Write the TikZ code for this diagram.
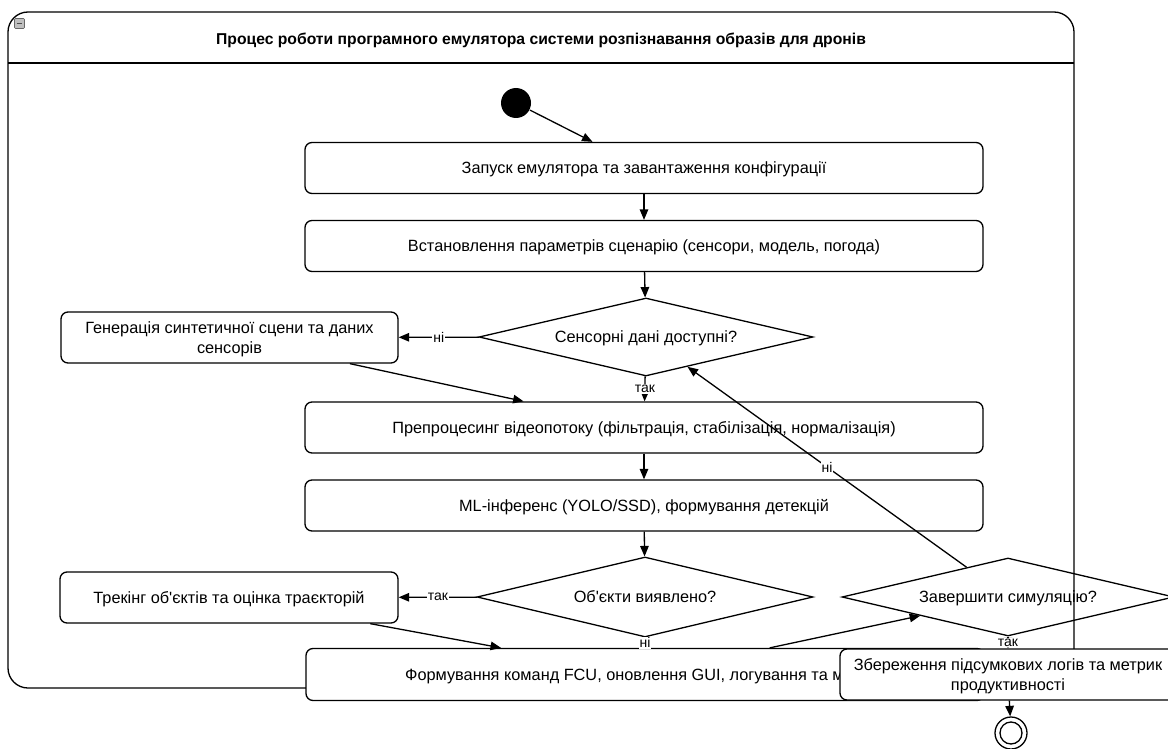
\documentclass[tikz,border=0pt]{standalone}
\usepackage{fontspec}
\setmainfont{Liberation Sans}
\usetikzlibrary{shapes.geometric,arrows.meta}
\begin{document}
\begin{tikzpicture}[x=1pt,y=-1pt,
  line width=1.3pt,
  >={Triangle[length=10.5pt,width=8.5pt]},
  act/.style={draw,rounded corners=7pt,fill=white,minimum height=51pt,
    align=center,inner sep=0pt,text depth=0pt,font=\fontsize{16.3}{20}\selectfont},
  dec/.style={draw,diamond,inner sep=0pt,shape aspect=4.3,text depth=0pt,
    minimum width=334pt,minimum height=78pt,font=\fontsize{16.3}{20}\selectfont},
  lbl/.style={midway,fill=white,inner sep=1pt,font=\fontsize{14}{14}\selectfont},
  flow/.style={->}]
\clip (0,0) rectangle (1168,749);
\fill[white] (0,0) rectangle (1168,749);

% swimlane container with its header
\node[draw,rounded corners=20pt,minimum width=1066pt,minimum height=676pt,inner sep=0pt]
  (lane) at (541,350) {};
\draw (8,63) -- (1074,63);
\node[font=\bfseries\fontsize{15.7}{19}\selectfont,text depth=0pt] (title) at (541,39)
  {Процес роботи програмного емулятора системи розпізнавання образів для дронів};
\node[draw=black!60,fill=black!25,line width=0.6pt,minimum size=10pt,inner sep=0pt,
  rounded corners=1pt] (fold) at (19.5,23.5) {};
\draw[line width=1.4pt,black!70] ([xshift=2.5pt]fold.west) -- ([xshift=-2.5pt]fold.east);

% start node
\node[circle,fill=black,minimum size=30pt,inner sep=0pt] (start) at (516,103) {};

% actions
\node[act,minimum width=678pt] (launch) at (644,168)
  {Запуск емулятора та завантаження конфігурації};
\node[act,minimum width=678pt] (setup) at (644,246)
  {Встановлення параметрів сценарію (сенсори, модель, погода)};
\node[act,minimum width=337pt] (gen) at (229.5,337.5)
  {Генерація синтетичної сцени та даних\\сенсорів};
\node[act,minimum width=678pt] (prep) at (644,427.5)
  {Препроцесинг відеопотоку (фільтрація, стабілізація, нормалізація)};
\node[act,minimum width=678pt] (infer) at (644,505.5)
  {ML-інференс (YOLO/SSD), формування детекцій};
\node[act,minimum width=338pt] (track) at (229,597.5)
  {Трекінг об{\textquotesingle}єктів та оцінка траєкторій};
\node[act,minimum width=678pt,minimum height=52pt] (fcu) at (645,674.5)
  {Формування команд FCU, оновлення GUI, логування та метрик};
\node[act,minimum width=336pt] (save) at (1008,674.5)
  {Збереження підсумкових логів та метрик\\продуктивності};

% decisions
\node[dec] (sens) at (646,337) {Сенсорні дані доступні?};
\node[dec,minimum width=336pt,minimum height=80pt] (obj) at (645,597) {Об{\textquotesingle}єкти виявлено?};
\node[dec,minimum width=332pt] (fin) at (1008,597) {Завершити симуляцію?};

% final node
\node[circle,draw,minimum size=32pt,inner sep=0pt] (end) at (1011,733) {};
\node[circle,draw,minimum size=22pt,inner sep=0pt] (endin) at (end.center) {};

% flows
\draw[flow] (start) -- (launch);
\draw[flow] (launch) -- (setup);
\draw[flow] (setup) -- (sens);
\draw[flow] (sens) -- node[lbl] {ні} (gen);
\draw[flow] (gen) -- (prep);
\draw[flow] (sens) -- node[lbl] {так} (prep);
\draw[flow] (prep) -- (infer);
\draw[flow] (infer) -- (obj);
\draw[flow] (obj) -- node[lbl] {так} (track);
\draw[flow] (track) -- (fcu);
\draw[flow] (obj) -- node[lbl] {ні} (fcu);
\draw[flow] (fcu) -- (fin);
\draw[flow] (fin) -- node[lbl] {ні} (sens);
\draw[flow] (fin) -- node[lbl] {так} (save);
\draw[flow] (save) -- (end);
\end{tikzpicture}
\end{document}
